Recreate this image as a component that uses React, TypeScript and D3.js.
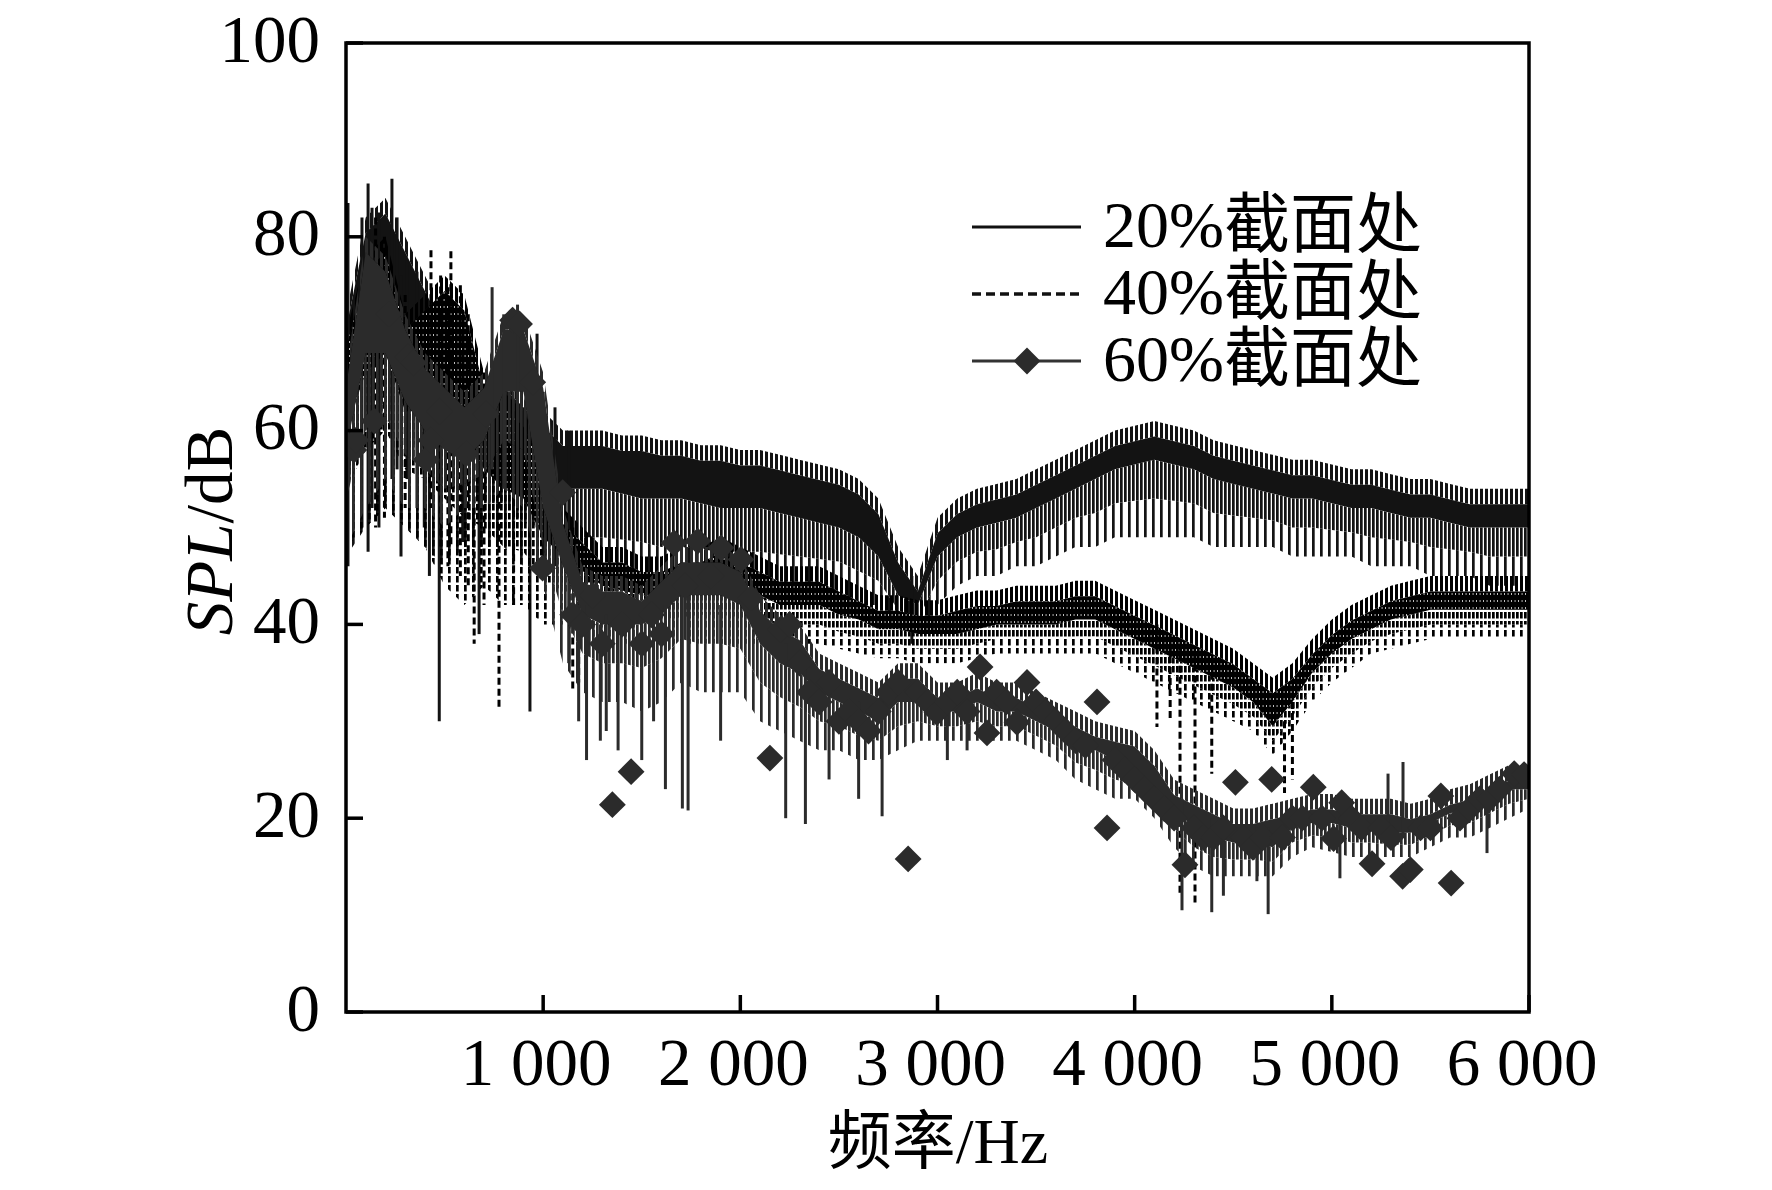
import React, { useEffect } from 'react';
import * as d3 from 'd3';

// frequency grid (Hz) the envelopes are read on
const freqs = d3.range(0, 6001, 100);

// 20% section: upper edge, lower edge of the dense band, tooth tips
const hi20 = [72, 82, 84, 80, 76, 72, 70, 66, 66, 64, 62, 60, 60, 60, 59.5, 59.5, 59, 59, 58.5, 58.5, 58, 58, 57.5, 57, 56.5, 56, 55, 53, 48, 45, 51, 53, 54, 54.5, 55, 56, 57, 58, 59, 60, 60.5, 61, 60.5, 60, 59, 58.5, 58, 57.5, 57, 57, 56.5, 56, 56, 55.5, 55, 55, 54.5, 54, 54, 54, 54];
const core20 = [62, 72, 74, 70, 66, 62, 60, 57, 57, 55, 54, 54, 54, 54, 53.5, 53, 53, 53, 52.5, 52, 52, 52, 51.5, 51, 50.5, 50, 49, 47, 43, 42, 47, 49, 50, 50.5, 51, 52, 53, 54, 55, 56, 56.5, 57, 56.5, 56, 55, 54.5, 54, 53.5, 53, 53, 52.5, 52, 52, 51.5, 51, 51, 50.5, 50, 50, 50, 50];
const lo20 = [47, 50, 52, 50, 48, 46, 48, 48, 48, 46, 46, 44, 44, 44, 44, 44, 43, 43, 43, 43, 43, 43, 43, 43, 43, 43, 42, 42, 40, 39, 42, 44, 45, 45, 46, 46, 47, 48, 48, 49, 49, 49, 49, 49, 48, 48, 48, 48, 47, 47, 47, 47, 46, 46, 46, 45, 45, 45, 44, 44, 44];

// 40% section
const hi40 = [70, 78, 80, 72, 74, 76, 74, 66, 64, 62, 58, 52, 50, 48, 48, 47, 47, 48, 48, 49, 48, 47, 46, 46, 46, 45, 44, 43, 43, 42.5, 42.5, 43, 43.5, 43.5, 44, 44, 44, 44.5, 44.5, 43.5, 42.5, 41.5, 40.5, 39.5, 38.5, 37.5, 36, 34.5, 36, 38.5, 40.5, 42, 43, 44, 44.5, 45, 45, 45, 45, 45, 45];
const core40 = [60, 66, 68, 62, 62, 62, 60, 56, 54, 53, 49, 47, 45.5, 44, 43.5, 43, 43, 43.5, 44, 44, 43.5, 43, 42, 42, 42, 41, 40.5, 39.5, 39.5, 39, 39, 39, 39.5, 40, 40, 40, 40, 40.5, 40.5, 39.5, 38.5, 37.5, 36.5, 35.5, 34.5, 33.5, 32, 29.5, 32, 35, 37, 38.5, 39.5, 40.5, 41, 41.5, 41.5, 41.5, 41.5, 41.5, 41.5];
const lo40 = [48, 50, 52, 50, 48, 44, 42, 44, 42, 42, 40, 40, 39, 38, 38, 38, 38, 38, 38, 38, 38, 38, 38, 38, 38, 37.5, 37, 36.5, 36.5, 36, 36, 36, 36.5, 37, 37, 37, 37, 37, 37, 36, 35, 34, 33, 32, 31, 30, 29, 26.5, 29, 32, 34, 35.5, 37, 37.5, 38, 38.5, 38.5, 38.5, 38.5, 38.5, 38.5];

// 60% section
const hi60 = [66, 80, 78, 72, 68, 66, 64, 66, 72, 72, 66, 52, 46, 45, 45, 44, 46, 48, 48, 48, 47, 43, 41, 40, 37, 36, 35, 34, 36, 36, 34, 34, 35, 34, 34, 33, 32, 31, 30, 29.5, 29, 27, 24, 23, 22, 21, 21, 21.5, 22, 22.5, 22.5, 22, 22, 22, 21.5, 22, 23, 23.5, 24.5, 25.5, 25.5];
const core60 = [58, 68, 68, 63, 60, 58, 57, 59, 64, 64, 52, 46, 41, 40, 40, 40, 41, 43, 43, 43, 42, 38, 36, 35, 33, 32, 31, 30, 32, 32, 31, 31, 32, 31, 31, 30, 29, 27.5, 27, 26, 25, 23, 21, 19, 18, 17.5, 17.5, 17, 19, 19.5, 19.5, 19, 19, 18.5, 18.5, 19.5, 20.5, 21, 22, 23, 23];
const lo60 = [48, 52, 55, 52, 52, 50, 52, 52, 54, 52, 44, 36, 33, 32, 32, 31, 32, 34, 33, 33, 33, 30, 29, 28, 27, 27, 26, 26, 27, 28, 28, 28, 28, 28, 28, 27, 26, 24, 23, 22, 22, 20, 17, 15, 14, 14, 14, 14, 16, 17, 16.5, 16, 16, 16, 16, 17, 18, 18, 19, 20, 21];

// single tall lines [Hz, top dB, bottom dB]
const spikes20 = [
  [10, 83.5, 46], [81, 82, 50], [112, 85.5, 47.5], [132, 83, 52], [167, 82.5, 50], [233, 86, 55], [259, 82, 56],
  [279, 76, 47], [309, 77.6, 55], [360, 76.4, 52], [397, 72, 50], [423, 70, 45], [473, 68, 30], [592, 66, 48.5],
  [675, 62, 39], [933, 62, 31], [969, 70, 50], [1000, 64, 46], [1060, 62.4, 46], [1130, 60, 36], [2870, 45, 38],
];
const spikes40 = [
  [150, 82, 50], [195, 80, 51], [300, 74, 52], [431, 78.6, 52], [480, 76, 48], [517, 74.8, 46], [532, 78.5, 48],
  [580, 75, 45], [620, 72, 44], [650, 60, 38], [700, 66, 42], [776, 64, 31.4], [850, 62, 42], [1150, 50, 33],
  [1180, 48, 34], [4113, 40, 29.4], [4180, 39, 30], [4230, 38, 12.3], [4306, 37, 11.2], [4391, 35, 24.6],
  [4760, 30, 22.6], [4800, 32, 24],
];
const spikes60 = [
  [741, 74.8, 56], [800, 72, 54], [870, 73, 52], [1180, 42, 30], [1220, 42, 26], [1290, 40, 28], [1320, 41, 29],
  [1380, 40, 27], [1500, 40, 26], [1560, 42, 30], [1620, 42, 23], [1706, 44, 21], [1735, 44, 20.8], [1900, 42, 28],
  [2230, 38, 20], [2330, 36, 19.4], [2450, 34, 24], [2600, 32, 22], [2719, 32, 20.2], [3050, 32, 26], [3150, 32, 27],
  [4240, 22, 10.5], [4391, 20, 10.3], [4450, 20, 12], [4620, 19, 13.5], [4677, 19, 10.1], [5041, 21, 13.8],
  [5285, 18, 24.6], [5361, 18, 25.8], [5787, 23, 16.4],
];

// diamond markers of the 60% curve [Hz, dB]
const markers60 = [
  [40, 58], [51, 59], [143, 61], [218, 72], [313, 67.6], [343, 67], [406, 57], [430, 59], [474, 62], [609, 57.6],
  [710, 61.7], [845, 71.4], [880, 71], [947, 65], [997, 45.8], [1099, 53.6], [1150, 41], [1200, 40], [1250, 43], [1300, 38],
  [1351, 21.4], [1400, 40], [1446, 24.8], [1500, 38], [1550, 41], [1600, 39], [1664, 48.4], [1720, 44], [1784, 48.6], [1850, 45],
  [1902, 47.9], [2003, 46.7], [2054, 42.7], [2150, 26.2], [2204, 39.5], [2250, 40], [2300, 36], [2350, 33], [2400, 32], [2450, 34],
  [2500, 30], [2550, 31], [2600, 30], [2650, 29], [2700, 31], [2750, 33], [2800, 34], [2851, 15.8], [2900, 33], [2950, 32],
  [2997, 30.9], [3050, 32], [3100, 33], [3150, 31], [3216, 35.6], [3251, 28.8], [3300, 33], [3350, 32], [3403, 29.9], [3454, 34],
  [3500, 32], [3550, 31], [3600, 30], [3650, 29], [3700, 28], [3750, 27.5], [3809, 32], [3860, 19], [3900, 26], [3950, 25],
  [4000, 24], [4050, 23], [4100, 22], [4150, 21], [4200, 20], [4255, 15.2], [4300, 19], [4350, 18], [4400, 18], [4450, 19],
  [4511, 23.7], [4550, 18], [4600, 17], [4650, 18], [4695, 24], [4750, 18], [4800, 20], [4850, 20], [4906, 23.2], [4950, 20],
  [5009, 17.9], [5050, 21.6], [5100, 20], [5150, 19], [5204, 15.3], [5250, 19], [5300, 18], [5359, 14], [5398, 14.7], [5450, 19],
  [5500, 19], [5553, 22.3], [5605, 13.3], [5650, 20], [5700, 21], [5750, 22], [5800, 22], [5850, 23], [5925, 24.6], [5975, 24.5],
];

const xTicks = [1000, 2000, 3000, 4000, 5000, 6000];
const yTicks = [0, 20, 40, 60, 80, 100];
const legendLabels = ['20%截面处', '40%截面处', '60%截面处'];

const W = 1772;
const H = 1190;
const FONT = '"Liberation Serif", "Times New Roman", "Noto Sans CJK SC", serif';

const fmtHz = (v: number) => d3.format(',')(v).replace(',', ' ');

const App: React.FC = () => {
  useEffect(() => {
    document.body.style.margin = '0';
  }, []);

  const x = d3.scaleLinear().domain([0, 6000]).range([346, 1529]);
  const y = d3.scaleLinear().domain([0, 100]).range([1012, 43]);

  // filled band between two value arrays (accessors so bands can be offset)
  const band = (top: (i: number) => number, bottom: (i: number) => number) =>
    d3.area<number>()
      .x(d => x(d))
      .y0((_, i) => y(bottom(i)))
      .y1((_, i) => y(top(i)))(freqs) || '';

  const series = [
    { id: 's20', hi: hi20, core: core20, lo: lo20, color: '#131313', spikes: spikes20, dash: undefined, solid: '#131313' },
    { id: 's40', hi: hi40, core: core40, lo: lo40, color: '#000000', spikes: spikes40, dash: '7 4', solid: 'url(#s40-solid)' },
    { id: 's60', hi: hi60, core: core60, lo: lo60, color: '#2b2b2b', spikes: spikes60, dash: undefined, solid: '#2b2b2b' },
  ];

  const diamond = d3.symbol().type(d3.symbolSquare).size(360)() || '';

  return (
    <svg width={W} height={H} style={{ display: 'block', background: '#fff' }} fontFamily={FONT}>
      <defs>
        <clipPath id="plot">
          <rect x={x(0)} y={y(100)} width={x(6000) - x(0)} height={y(0) - y(100)} />
        </clipPath>
        {series.map(s => (
          <React.Fragment key={s.id}>
            {/* dense teeth */}
            <pattern id={`${s.id}-dense`} width={4} height={s.dash ? 9 : 4} patternUnits="userSpaceOnUse">
              <rect x={0} y={0} width={2.7} height={s.dash ? 6.5 : 4} fill={s.color} />
            </pattern>
            {/* every other tooth reaching the tips */}
            <pattern id={`${s.id}-sparse`} width={8} height={s.dash ? 9 : 4} patternUnits="userSpaceOnUse">
              <rect x={0} y={0} width={2.7} height={s.dash ? 6.5 : 4} fill={s.color} />
            </pattern>
            {/* ragged upper edge */}
            <pattern id={`${s.id}-fringe`} width={5} height={4} patternUnits="userSpaceOnUse">
              <rect x={0} y={0} width={3} height={4} fill={s.color} />
            </pattern>
          </React.Fragment>
        ))}
        <pattern id="s40-solid" width={3.5} height={7} patternUnits="userSpaceOnUse">
          <rect x={0} y={0} width={3.5} height={7} fill="#000" />
          <rect x={2.8} y={5} width={0.7} height={2} fill="#fff" />
        </pattern>
      </defs>

      <g clipPath="url(#plot)">
        {series.map(s => {
          const mid = (i: number) => (s.core[i] + s.lo[i]) / 2;
          return (
            <g key={s.id}>
              <path d={band(mid, i => s.lo[i])} fill={`url(#${s.id}-sparse)`} />
              <path d={band(i => s.core[i], mid)} fill={`url(#${s.id}-dense)`} />
              <path d={band(i => s.hi[i] - 1.6, i => s.core[i])} fill={s.solid} />
              <path d={band(i => s.hi[i], i => s.hi[i] - 1.6)} fill={`url(#${s.id}-fringe)`} />
              {s.spikes.map((p, i) => (
                <line key={i} x1={x(p[0])} x2={x(p[0])} y1={y(p[1])} y2={y(p[2])}
                  stroke={s.color} strokeWidth={3} strokeDasharray={s.dash} />
              ))}
            </g>
          );
        })}
        {markers60.map((m, i) => (
          <path key={i} d={diamond} fill="#2b2b2b"
            transform={`translate(${x(m[0])},${y(m[1])}) rotate(45)`} />
        ))}
      </g>

      {/* frame */}
      <rect x={x(0)} y={y(100)} width={x(6000) - x(0)} height={y(0) - y(100)}
        fill="none" stroke="#000" strokeWidth={3.5} />

      {yTicks.map(t => (
        <g key={t}>
          <line x1={x(0)} x2={x(0) + 17} y1={y(t)} y2={y(t)} stroke="#000" strokeWidth={3.5} />
          <text x={320} y={y(t) + 18.5} textAnchor="end" fontSize={67}>{t}</text>
        </g>
      ))}
      {xTicks.map(t => (
        <g key={t}>
          <line x1={x(t)} x2={x(t)} y1={y(0)} y2={y(0) - 17} stroke="#000" strokeWidth={3.5} />
          <text x={x(t) - 7} y={1085} textAnchor="middle" fontSize={67}>{fmtHz(t)}</text>
        </g>
      ))}

      <text transform="translate(232,531) rotate(-90)" textAnchor="middle" fontSize={67}>
        <tspan fontStyle="italic">SPL</tspan>/dB
      </text>
      <text x={938} y={1163} textAnchor="middle" fontSize={64}>频率/Hz</text>

      {/* legend */}
      {legendLabels.map((lab, i) => {
        const ly = 227 + i * 67;
        return (
          <g key={lab}>
            <line x1={972} x2={1081} y1={ly} y2={ly}
              stroke={i === 2 ? '#333' : '#111'} strokeWidth={i === 1 ? 3.5 : 3}
              strokeDasharray={i === 1 ? '9 5' : undefined} />
            {i === 2 && (
              <path d={diamond} fill="#2b2b2b" transform={`translate(1027,${ly}) rotate(45)`} />
            )}
            <text x={1103} y={ly + 20} fontSize={66}>{lab}</text>
          </g>
        );
      })}
    </svg>
  );
};

export default App;
